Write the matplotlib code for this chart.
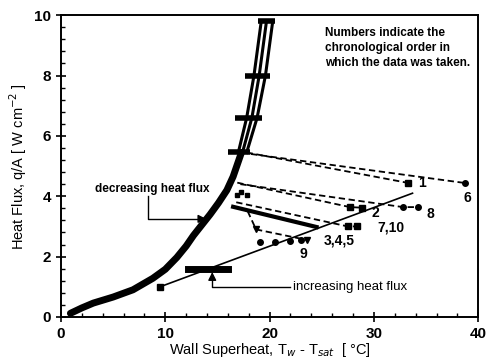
import matplotlib
matplotlib.use("Agg")
import matplotlib.pyplot as plt
from matplotlib.ticker import MultipleLocator

plt.rcParams['font.family'] = ['Liberation Sans', 'DejaVu Sans']

# Decreasing heat flux boiling curve (thick)
curve_x = [0.9, 2.0, 3.1, 5.0, 6.9, 8.8, 10.0, 11.1, 12.0, 12.7, 13.5, 14.3, 15.1, 15.9, 16.5, 16.9, 17.3]
curve_y = [0.12, 0.30, 0.46, 0.66, 0.90, 1.28, 1.58, 1.97, 2.35, 2.70, 3.05, 3.40, 3.78, 4.20, 4.65, 5.05, 5.45]

# Upper nucleate boiling branches
branch_y = [5.45, 6.6, 8.0, 9.8]
branch_a_x = [17.0, 17.8, 18.5, 19.2]
branch_b_x = [17.4, 18.3, 19.0, 19.7]
branch_c_x = [17.8, 18.8, 19.6, 20.3]
bar_y = [5.45, 6.6, 8.0, 9.8]
bar_xmin = [16.0, 16.7, 17.6, 18.9]
bar_xmax = [18.1, 19.3, 20.0, 20.5]

# Increasing heat flux line
inc_x = [9.5, 33.7]
inc_y = [1.0, 4.1]
inc_bar_x = [12.2, 16.0]
inc_bar_y = [1.6, 1.6]

# Runs (dashed)
run1_x = [17.8, 33.3]; run1_y = [5.45, 4.44]
run6_x = [18.2, 38.7]; run6_y = [5.40, 4.44]
run2_x = [16.9, 27.7, 28.9]; run2_y = [4.45, 3.64, 3.62]
run8_x = [17.2, 32.8, 34.2]; run8_y = [4.40, 3.64, 3.64]
run7_x = [16.8, 27.5, 28.4]; run7_y = [3.80, 3.0, 3.0]
run7s_x = [16.5, 24.5]; run7s_y = [3.65, 2.98]
run3_x = [17.9, 18.7, 23.6]; run3_y = [3.5, 2.9, 2.55]
run9_x = [19.1, 20.5, 22.0, 23.0]; run9_y = [2.48, 2.50, 2.52, 2.55]
blob_x = [16.9, 17.3, 17.8]; blob_y = [4.05, 4.15, 4.05]

labels = ["1", "6", "2", "8", "7,10", "3,4,5", "9"]
label_x = [34.2, 38.6, 29.8, 35.0, 30.3, 25.2, 22.9]
label_y = [4.45, 3.95, 3.45, 3.4, 2.95, 2.55, 2.1]

fig = plt.figure(figsize=(4.92, 3.61), dpi=100)
ax = fig.add_axes([0.124, 0.122, 0.848, 0.836])

k = 'black'
ax.plot(curve_x, curve_y, color=k, lw=5, solid_capstyle='round', solid_joinstyle='round')
for bx in (branch_a_x, branch_b_x, branch_c_x):
    ax.plot(bx, branch_y, color=k, lw=2.2)
ax.hlines(bar_y, bar_xmin, bar_xmax, color=k, lw=4)

ax.plot(inc_x, inc_y, color=k, lw=1.2)
ax.plot(inc_bar_x, inc_bar_y, color=k, lw=5)
ax.plot([inc_x[0]], [inc_y[0]], marker='s', color=k, ms=4)

dash = dict(color=k, lw=1.3, ls=(0, (3.5, 2)))
ax.plot(run1_x, run1_y, **dash); ax.plot(run1_x[-1:], run1_y[-1:], 's', color=k, ms=4)
ax.plot(run6_x, run6_y, **dash); ax.plot(run6_x[-1:], run6_y[-1:], 'o', color=k, ms=4)
ax.plot(run2_x, run2_y, **dash); ax.plot(run2_x[1:], run2_y[1:], 's', color=k, ms=4)
ax.plot(run8_x, run8_y, **dash); ax.plot(run8_x[1:], run8_y[1:], 'o', color=k, ms=4)
ax.plot(run7_x, run7_y, **dash); ax.plot(run7_x[1:], run7_y[1:], 's', color=k, ms=4)
ax.plot(run7s_x, run7s_y, color=k, lw=3)
ax.plot(run3_x, run3_y, **dash); ax.plot(run3_x[1:], run3_y[1:], 'v', color=k, ms=5)
ax.plot(run9_x, run9_y, 'o', color=k, ms=4)
ax.plot(blob_x, blob_y, 's', color=k, ms=3.5)

for t, lx, ly in zip(labels, label_x, label_y):
    ax.text(lx, ly, t, fontsize=10, fontweight='bold', va='center', ha='left')

# Annotations with elbow arrows
ax.text(8.7, 4.24, "decreasing heat flux", fontsize=8.5, fontweight='bold', ha='center', va='center')
ax.plot([8.34, 8.34, 13.3], [4.0, 3.25, 3.25], color=k, lw=1)
ax.annotate("", xy=(14.2, 3.25), xytext=(13.0, 3.25),
            arrowprops=dict(arrowstyle='-|>', color=k, lw=1, mutation_scale=12))
ax.text(22.2, 1.0, "increasing heat flux", fontsize=9.5, ha='left', va='center')
ax.plot([22.0, 14.5, 14.5], [1.0, 1.0, 1.3], color=k, lw=1)
ax.annotate("", xy=(14.5, 1.58), xytext=(14.5, 1.2),
            arrowprops=dict(arrowstyle='-|>', color=k, lw=1, mutation_scale=12))

ax.text(25.3, 9.62, "Numbers indicate the\nchronological order in\nwhich the data was taken.",
        fontsize=8.5, fontweight='bold', ha='left', va='top', linespacing=1.35)

ax.set_xlim(0, 40)
ax.set_ylim(0, 10)
ax.xaxis.set_major_locator(MultipleLocator(10))
ax.xaxis.set_minor_locator(MultipleLocator(2))
ax.yaxis.set_major_locator(MultipleLocator(2))
ax.yaxis.set_minor_locator(MultipleLocator(0.4))
ax.tick_params(which='major', direction='inout', length=7, width=1.2, labelsize=11)
ax.tick_params(which='minor', direction='in', length=3, width=1)
for lab in ax.get_xticklabels() + ax.get_yticklabels():
    lab.set_fontweight('bold')
for s in ax.spines.values():
    s.set_linewidth(1.4)

ax.set_xlabel(r"Wall Superheat, T$_w$ - T$_{sat}$  [ °C]", fontsize=10.5, labelpad=0)
ax.set_ylabel(r"Heat Flux, q/A [ W cm$^{-2}$ ]", fontsize=10.5, labelpad=4)

fig.savefig("out.png", dpi=100)
